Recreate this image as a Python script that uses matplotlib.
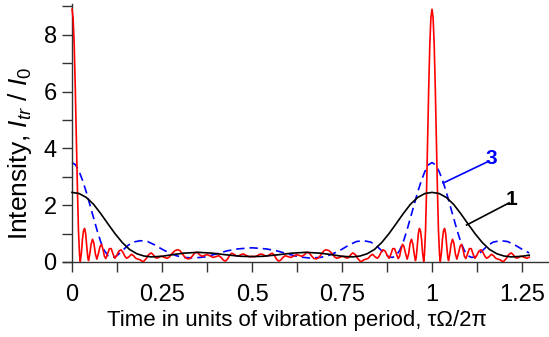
import numpy as np
import matplotlib
matplotlib.use("Agg")
import matplotlib.pyplot as plt
from matplotlib.ticker import MultipleLocator

plt.rcParams['font.family'] = ['Liberation Sans', 'DejaVu Sans']
plt.rcParams['mathtext.fontset'] = 'custom'
plt.rcParams['mathtext.rm'] = 'Liberation Sans'
plt.rcParams['mathtext.it'] = 'Liberation Sans:italic'

# curve 1 (black, solid)
t1 = [0.00, 0.02, 0.04, 0.06, 0.08, 0.10, 0.12, 0.14, 0.16, 0.18, 0.20, 0.22, 0.25,
      0.28, 0.31, 0.35, 0.39, 0.43, 0.47, 0.50, 0.53, 0.57, 0.61, 0.65, 0.69, 0.72,
      0.75, 0.78, 0.80, 0.82, 0.84, 0.86, 0.88, 0.90, 0.92, 0.94, 0.96, 0.98, 1.00,
      1.02, 1.04, 1.06, 1.08, 1.10, 1.12, 1.14, 1.16, 1.18, 1.20, 1.22, 1.25, 1.27]
i1 = [2.45, 2.41, 2.27, 2.03, 1.70, 1.34, 0.99, 0.68, 0.44, 0.29, 0.21, 0.18, 0.20,
      0.26, 0.31, 0.34, 0.31, 0.25, 0.20, 0.19, 0.20, 0.25, 0.31, 0.34, 0.31, 0.26,
      0.20, 0.18, 0.21, 0.29, 0.44, 0.68, 0.99, 1.34, 1.70, 2.03, 2.27, 2.41, 2.45,
      2.41, 2.27, 2.03, 1.70, 1.34, 0.99, 0.68, 0.44, 0.29, 0.21, 0.18, 0.20, 0.24]

# curve 3 (blue, dashed)
t3 = [0.00, 0.01, 0.02, 0.03, 0.04, 0.05, 0.06, 0.07, 0.08, 0.09, 0.10, 0.11, 0.12,
      0.13, 0.14, 0.155, 0.17, 0.19, 0.21, 0.23, 0.25, 0.27, 0.29, 0.31, 0.34, 0.37,
      0.40, 0.43, 0.46, 0.50, 0.54, 0.57, 0.60, 0.63, 0.66, 0.69, 0.71, 0.73, 0.75,
      0.77, 0.79, 0.81, 0.83, 0.845, 0.86, 0.87, 0.88, 0.89, 0.90, 0.91, 0.92, 0.93,
      0.94, 0.95, 0.96, 0.97, 0.98, 0.99, 1.00, 1.01, 1.02, 1.03, 1.04, 1.05, 1.06,
      1.07, 1.08, 1.09, 1.10, 1.11, 1.12, 1.13, 1.14, 1.155, 1.17, 1.19, 1.21, 1.23,
      1.25, 1.27]
i3 = [3.50, 3.42, 3.18, 2.85, 2.45, 2.00, 1.55, 1.10, 0.70, 0.40, 0.22, 0.16, 0.18,
      0.28, 0.40, 0.58, 0.70, 0.75, 0.72, 0.60, 0.45, 0.32, 0.22, 0.16, 0.14, 0.18,
      0.28, 0.39, 0.46, 0.50, 0.46, 0.39, 0.28, 0.18, 0.14, 0.16, 0.22, 0.32, 0.45,
      0.60, 0.72, 0.75, 0.70, 0.58, 0.40, 0.28, 0.18, 0.16, 0.22, 0.40, 0.70, 1.10,
      1.55, 2.00, 2.45, 2.85, 3.18, 3.42, 3.50, 3.42, 3.18, 2.85, 2.45, 2.00, 1.55,
      1.10, 0.70, 0.40, 0.22, 0.16, 0.18, 0.28, 0.40, 0.58, 0.70, 0.75, 0.72, 0.60,
      0.45, 0.32]

# red curve (solid)
tr = [0.000, 0.003, 0.006, 0.009, 0.012, 0.015, 0.018, 0.021, 0.023, 0.026, 0.029,
      0.032, 0.035, 0.038, 0.041, 0.044, 0.046, 0.049, 0.053, 0.057, 0.061, 0.065,
      0.069, 0.073, 0.078, 0.082, 0.086, 0.090, 0.094, 0.099, 0.104, 0.109, 0.114,
      0.119, 0.124, 0.130, 0.136, 0.141, 0.147, 0.152, 0.158, 0.165, 0.171, 0.177,
      0.183, 0.189, 0.195, 0.200, 0.206, 0.213, 0.220, 0.226, 0.232, 0.238, 0.244,
      0.250, 0.257, 0.264, 0.270, 0.278, 0.286, 0.294, 0.300, 0.307, 0.314, 0.321,
      0.328, 0.335, 0.342, 0.348, 0.354, 0.361, 0.368, 0.376, 0.384, 0.392, 0.400,
      0.408, 0.415, 0.420, 0.426, 0.432, 0.438, 0.444, 0.450, 0.457, 0.464, 0.471,
      0.477, 0.484, 0.491, 0.497, 0.500,
      0.503, 0.509, 0.516, 0.523, 0.529, 0.536, 0.543, 0.550, 0.556, 0.562, 0.568,
      0.574, 0.580, 0.585, 0.592, 0.600, 0.608, 0.616, 0.624, 0.632, 0.639, 0.646,
      0.652, 0.658, 0.665, 0.672, 0.679, 0.686, 0.693, 0.700, 0.706, 0.714, 0.722,
      0.730, 0.736, 0.743, 0.750, 0.756, 0.762, 0.768, 0.774, 0.780, 0.787, 0.794,
      0.800, 0.805, 0.811, 0.817, 0.823, 0.829, 0.835, 0.842, 0.848, 0.853, 0.859,
      0.864, 0.870, 0.876, 0.881, 0.886, 0.891, 0.896, 0.901, 0.906, 0.910, 0.914,
      0.918, 0.922, 0.927, 0.931, 0.935, 0.939, 0.943, 0.947, 0.951, 0.954, 0.956,
      0.959, 0.962, 0.965, 0.968, 0.971, 0.974, 0.977, 0.979, 0.982, 0.985, 0.988,
      0.991, 0.994, 0.997, 1.000,
      1.003, 1.006, 1.009, 1.012, 1.015, 1.018, 1.021, 1.023, 1.026, 1.029, 1.032,
      1.035, 1.038, 1.041, 1.044, 1.046, 1.049, 1.053, 1.057, 1.061, 1.065, 1.069,
      1.073, 1.078, 1.082, 1.086, 1.090, 1.094, 1.099, 1.104, 1.109, 1.114, 1.119,
      1.124, 1.130, 1.136, 1.141, 1.147, 1.152, 1.158, 1.165, 1.171, 1.177, 1.183,
      1.189, 1.195, 1.200, 1.206, 1.213, 1.220, 1.226, 1.232, 1.238, 1.244, 1.250,
      1.257, 1.264, 1.270]
ir = [8.90, 8.60, 7.70, 6.20, 4.40, 2.60, 1.10, 0.25, 0.02, 0.30, 0.80,
      1.10, 1.18, 1.00, 0.55, 0.15, 0.05, 0.25, 0.62, 0.80, 0.65, 0.28,
      0.10, 0.28, 0.55, 0.62, 0.45, 0.20, 0.12, 0.30, 0.47, 0.47, 0.28,
      0.13, 0.22, 0.38, 0.43, 0.35, 0.20, 0.13, 0.18, 0.27, 0.22, 0.13,
      0.10, 0.08, 0.02, 0.03, 0.12, 0.26, 0.32, 0.25, 0.15, 0.14, 0.19,
      0.20, 0.16, 0.13, 0.17, 0.30, 0.40, 0.43, 0.40, 0.28, 0.16, 0.11,
      0.12, 0.22, 0.33, 0.34, 0.26, 0.20, 0.23, 0.26, 0.21, 0.16, 0.19,
      0.22, 0.15, 0.07, 0.03, 0.10, 0.24, 0.31, 0.27, 0.21, 0.22, 0.27,
      0.28, 0.23, 0.19, 0.19, 0.20,
      0.19, 0.19, 0.23, 0.28, 0.27, 0.22, 0.21, 0.27, 0.31, 0.24, 0.10,
      0.03, 0.07, 0.15, 0.22, 0.19, 0.16, 0.21, 0.26, 0.23, 0.20, 0.26,
      0.34, 0.33, 0.22, 0.12, 0.11, 0.16, 0.28, 0.40, 0.43, 0.40, 0.30,
      0.17, 0.13, 0.16, 0.20, 0.19, 0.14, 0.15, 0.25, 0.32, 0.26, 0.12,
      0.03, 0.02, 0.08, 0.10, 0.13, 0.22, 0.27, 0.18, 0.13, 0.20, 0.35,
      0.43, 0.38, 0.22, 0.13, 0.28, 0.47, 0.47, 0.30, 0.12, 0.20, 0.45,
      0.62, 0.55, 0.28, 0.10, 0.28, 0.65, 0.80, 0.62, 0.25, 0.05, 0.15,
      0.55, 1.00, 1.18, 1.10, 0.80, 0.30, 0.02, 0.25, 1.10, 2.60, 4.40,
      6.20, 7.70, 8.60, 8.90,
      8.60, 7.70, 6.20, 4.40, 2.60, 1.10, 0.25, 0.02, 0.30, 0.80, 1.10,
      1.18, 1.00, 0.55, 0.15, 0.05, 0.25, 0.62, 0.80, 0.65, 0.28, 0.10,
      0.28, 0.55, 0.62, 0.45, 0.20, 0.12, 0.30, 0.47, 0.47, 0.28, 0.13,
      0.22, 0.38, 0.43, 0.35, 0.20, 0.13, 0.18, 0.27, 0.22, 0.13, 0.10,
      0.08, 0.02, 0.03, 0.12, 0.26, 0.32, 0.25, 0.15, 0.14, 0.19, 0.20,
      0.16, 0.13, 0.17]

xticks = [0, 0.25, 0.5, 0.75, 1, 1.25]
xticklabels = ['0', '0.25', '0.5', '0.75', '1', '1.25']
yticks = [0, 2, 4, 6, 8]

fig = plt.figure(figsize=(5.49, 3.37), dpi=100)
ax = fig.add_axes([63 / 549, 0.2226, 486 / 549, 0.7669])

ax.plot(tr, ir, color='#ff0000', lw=1.2, zorder=3)
ax.plot(t3, i3, color='#0000ff', lw=1.2, dashes=(5, 3), zorder=2)
ax.plot(t1, i1, color='black', lw=1.2, zorder=4)

ax.set_xlim(-0.025, 1.325)
ax.set_ylim(0, 9.1)
ax.spines['top'].set_visible(False)
ax.spines['right'].set_visible(False)
ax.spines['left'].set_position(('data', 0))
for s in ('left', 'bottom'):
    ax.spines[s].set_linewidth(1.0)
    ax.spines[s].set_color('#333333')

ax.set_xticks(xticks)
ax.set_xticklabels(xticklabels)
ax.xaxis.set_minor_locator(MultipleLocator(0.125))
ax.set_yticks(yticks)
ax.yaxis.set_minor_locator(MultipleLocator(1))
ax.tick_params(which='both', direction='out', length=7, width=1.0, color='#333333',
               labelsize=17)
ax.tick_params(axis='x', pad=9)
ax.tick_params(axis='y', pad=4)

ax.set_xlabel('Time in units of vibration period, τΩ/2π', fontsize=16, labelpad=3)
ax.xaxis.set_label_coords(0.481, -0.185)
ax.set_ylabel(r'Intensity, $I_{tr}$ / $I_0$', fontsize=19)
ax.yaxis.set_label_coords(-0.06, 0.42)

# leader lines and curve numbers
ax.plot([1.031, 1.153], [2.78, 3.52], color='#0000ff', lw=1.2)
ax.text(1.164, 3.65, '3', color='#0000ff', fontsize=15, fontweight='bold',
        ha='center', va='center')
ax.plot([1.096, 1.214], [1.30, 2.08], color='black', lw=1.2)
ax.text(1.222, 2.2, '1', color='black', fontsize=15, fontweight='bold',
        ha='center', va='center')

fig.savefig('out.png', dpi=100)
